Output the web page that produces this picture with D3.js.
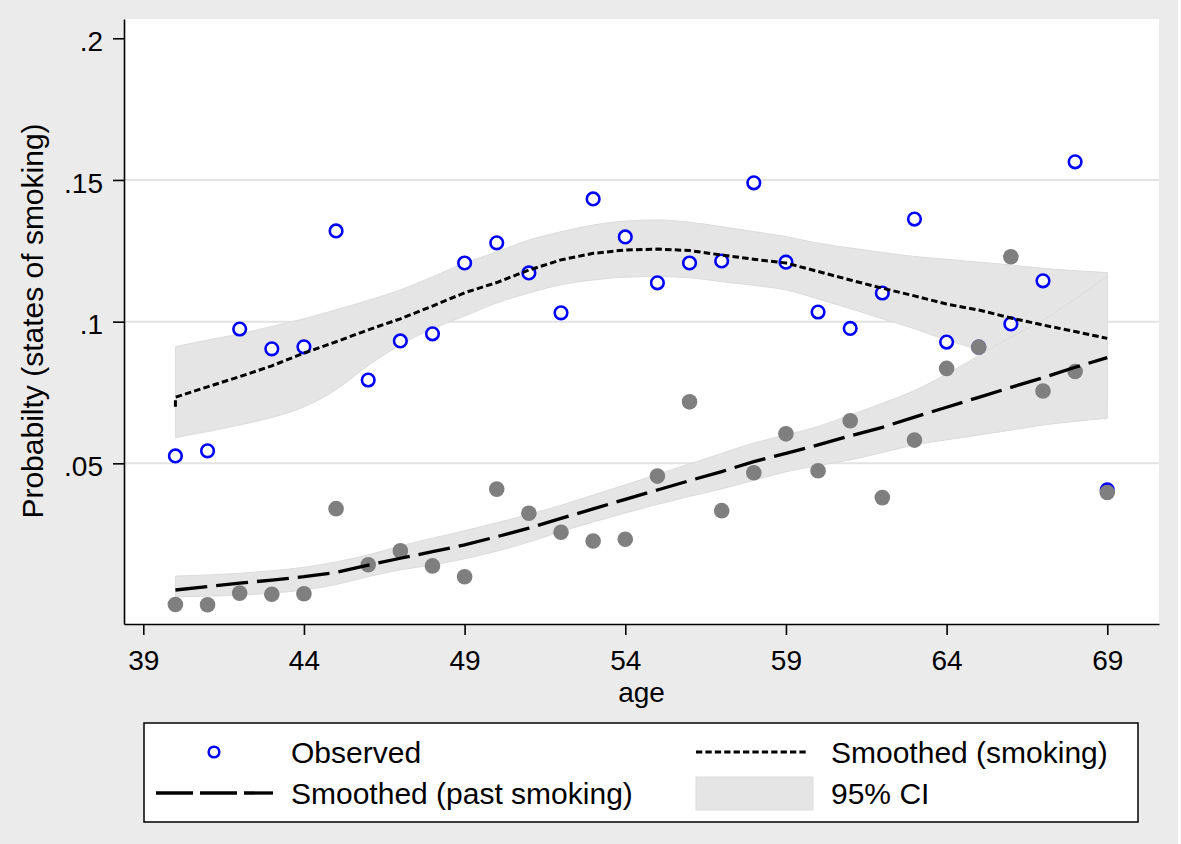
<!DOCTYPE html>
<html><head><meta charset="utf-8">
<script src="https://cdn.jsdelivr.net/npm/d3@7"></script>
<style>
body{margin:0;background:#fff}
svg{display:block}
text{font-family:"Liberation Sans",Arial,Helvetica,sans-serif;fill:#000}
</style>
</head><body>
<svg id="chart" width="1181" height="844"></svg>
<script>
// ---------- data ----------
const ages = [40,41,42,43,44,45,46,47,48,49,50,51,52,53,54,55,56,57,58,59,60,61,62,63,64,65,66,67,68,69];

const observedSmoking = [0.0526,0.0544,0.0974,0.0904,0.0911,0.1320,0.0794,0.0932,0.0957,0.1207,
                         0.1278,0.1172,0.1031,0.1433,0.1299,0.1137,0.1207,0.1214,0.1490,0.1210,
                         0.1034,0.0976,0.1101,0.1362,0.0928,0.0910,0.0992,0.1144,0.1564,0.0406];

const observedPast = [0.0002,0.0001,0.0042,0.0038,0.0040,0.0340,0.0142,0.0191,0.0138,0.0100,
                      0.0409,0.0324,0.0257,0.0226,0.0232,0.0455,0.0717,0.0333,0.0467,0.0604,
                      0.0474,0.0650,0.0379,0.0582,0.0835,0.0910,0.1229,0.0755,0.0824,0.0397];

const smoothSmokingStart = [0.0700];
const smoothSmoking = [0.0733,0.0770,0.0806,0.0844,0.0889,0.0929,0.0971,0.1010,0.1055,0.1102,
                       0.1138,0.1182,0.1218,0.1241,0.1253,0.1256,0.1251,0.1235,0.1220,0.1207,
                       0.1177,0.1147,0.1118,0.1091,0.1062,0.1041,0.1013,0.0988,0.0965,0.0941];

const smoothPast = [0.0053,0.0065,0.0077,0.0088,0.0100,0.0115,0.0141,0.0165,0.0188,0.0212,
                    0.0241,0.0271,0.0306,0.0339,0.0373,0.0406,0.0439,0.0471,0.0506,0.0535,
                    0.0565,0.0597,0.0627,0.0663,0.0698,0.0733,0.0768,0.0802,0.0839,0.0873];

const ciSmokingUpper = [0.0912,0.0935,0.0957,0.0983,0.1010,0.1042,0.1075,0.1112,0.1158,0.1207,
                        0.1246,0.1288,0.1317,0.1341,0.1355,0.1359,0.1351,0.1335,0.1318,0.1300,
                        0.1277,0.1260,0.1244,0.1230,0.1220,0.1210,0.1200,0.1188,0.1180,0.1173];
const ciSmokingLower = [0.0591,0.0612,0.0635,0.0662,0.0699,0.0760,0.0845,0.0918,0.0975,0.1020,
                        0.1066,0.1101,0.1130,0.1147,0.1157,0.1159,0.1155,0.1141,0.1128,0.1112,
                        0.1080,0.1046,0.1010,0.0975,0.0935,0.0900,0.0850,0.0800,0.0750,0.0700];

const ciPastUpper = [0.0102,0.0106,0.0112,0.0121,0.0133,0.0152,0.0177,0.0208,0.0236,0.0262,
                     0.0290,0.0320,0.0352,0.0388,0.0424,0.0461,0.0498,0.0535,0.0572,0.0600,
                     0.0630,0.0670,0.0712,0.0757,0.0815,0.0880,0.0945,0.1005,0.1080,0.1160];
const ciPastLower = [0.0029,0.0031,0.0035,0.0042,0.0053,0.0072,0.0100,0.0124,0.0141,0.0163,
                     0.0190,0.0222,0.0259,0.0293,0.0325,0.0355,0.0383,0.0410,0.0440,0.0470,
                     0.0492,0.0512,0.0538,0.0565,0.0583,0.0600,0.0617,0.0635,0.0648,0.0659];

const xTicks = [39,44,49,54,59,64,69];
const yTicks = [0.05,0.1,0.15,0.2];
const yTickLabels = [".05",".1",".15",".2"];
const gridValues = [0.05,0.1,0.15];

const xTitle = "age";
const yTitle = "Probabilty (states of smoking)";
const legendLabels = ["Observed","Smoothed (smoking)","Smoothed (past smoking)","95% CI"];

// ---------- drawing ----------
const svg = d3.select("#chart");
const W = 1181, H = 844;
const plot = {left:124, right:1159, top:19, bottom:624};

svg.append("rect").attr("x",0).attr("y",0).attr("width",W-3).attr("height",H).attr("fill","#ebebeb");
svg.append("rect").attr("x",plot.left).attr("y",plot.top)
   .attr("width",plot.right-plot.left).attr("height",plot.bottom-plot.top).attr("fill","#fff");

const x = d3.scaleLinear().domain([38.4, 70.61]).range([plot.left, plot.right]);
const y = d3.scaleLinear().domain([-0.0067, 0.2068]).range([plot.bottom, plot.top]);

// grid
svg.append("g").selectAll("line").data(gridValues).join("line")
  .attr("x1",plot.left).attr("x2",plot.right)
  .attr("y1",d=>y(d)).attr("y2",d=>y(d))
  .attr("stroke","#e3e3e3").attr("stroke-width",2);

// CI bands
const area = (up, lo) => d3.area().curve(d3.curveMonotoneX)
  .x((d,i)=>x(ages[i])).y0((d,i)=>y(lo[i])).y1((d,i)=>y(up[i]));
svg.append("path").datum(ages).attr("d", area(ciSmokingUpper, ciSmokingLower))
  .attr("fill","#e5e5e5").attr("stroke","#dcdcdc").attr("stroke-width",1);
svg.append("path").datum(ages).attr("d", area(ciPastUpper, ciPastLower))
  .attr("fill","#e5e5e5").attr("stroke","#dcdcdc").attr("stroke-width",1);

// observed points
svg.append("g").selectAll("circle").data(ages).join("circle")
  .attr("cx",d=>x(d)).attr("cy",(d,i)=>y(observedSmoking[i])).attr("r",6.3)
  .attr("fill","#fff").attr("stroke","#0000ff").attr("stroke-width",2.6);
svg.append("g").selectAll("circle").data(ages).join("circle")
  .attr("cx",d=>x(d)).attr("cy",(d,i)=>y(observedPast[i])).attr("r",7.8)
  .attr("fill","#7f7f7f");

// smoothed lines
const smokingPts = [[ages[0], smoothSmokingStart[0]]].concat(ages.map((a,i)=>[a, smoothSmoking[i]]));
const pastPts = ages.map((a,i)=>[a, smoothPast[i]]);
const line = d3.line().x(d=>x(d[0])).y(d=>y(d[1]));
svg.append("path").datum(smokingPts).attr("d", line)
  .attr("fill","none").attr("stroke","#000").attr("stroke-width",3).attr("stroke-dasharray","6.5,3.2");
svg.append("path").datum(pastPts).attr("d", line)
  .attr("fill","none").attr("stroke","#000").attr("stroke-width",3.3).attr("stroke-dasharray","32,9");

// axes
const yAxis = svg.append("g").attr("transform",`translate(${plot.left},0)`)
  .call(d3.axisLeft(y).tickValues(yTicks).tickFormat((d,i)=>yTickLabels[i]).tickSize(11).tickSizeOuter(0).tickPadding(10));
yAxis.selectAll("text").attr("font-size",28).attr("dy","0.44em").style("font-family",'"Liberation Sans",Arial,sans-serif');
const xAxis = svg.append("g").attr("transform",`translate(0,${plot.bottom})`)
  .call(d3.axisBottom(x).tickValues(xTicks).tickFormat(d=>String(d)).tickSize(11).tickSizeOuter(0));
xAxis.selectAll("text").attr("font-size",28).attr("y",46).attr("dy",null).style("font-family",'"Liberation Sans",Arial,sans-serif');
svg.selectAll(".domain, .tick line").attr("stroke","#000").attr("stroke-width",1.6);

// titles
svg.append("text").attr("x",(plot.left+plot.right)/2).attr("y",702)
  .attr("text-anchor","middle").attr("font-size",28).text(xTitle);
svg.append("text").attr("transform","translate(43,321) rotate(-90)")
  .attr("text-anchor","middle").attr("font-size",30).text(yTitle);

// legend
const lg = svg.append("g");
lg.append("rect").attr("x",144).attr("y",723).attr("width",994).attr("height",99)
  .attr("fill","#fff").attr("stroke","#000").attr("stroke-width",1.5);
lg.append("circle").attr("cx",214).attr("cy",752).attr("r",5.3)
  .attr("fill","#fff").attr("stroke","#0000ff").attr("stroke-width",2.6);
lg.append("line").attr("x1",156).attr("x2",273).attr("y1",793).attr("y2",793)
  .attr("stroke","#000").attr("stroke-width",3.3).attr("stroke-dasharray","37,7");
lg.append("line").attr("x1",696).attr("x2",808).attr("y1",752).attr("y2",752)
  .attr("stroke","#000").attr("stroke-width",3).attr("stroke-dasharray","6.3,3.1");
lg.append("rect").attr("x",696).attr("y",777).attr("width",117).attr("height",33)
  .attr("fill","#e5e5e5").attr("stroke","#dcdcdc").attr("stroke-width",1);
const lt = [[291,763,legendLabels[0]],[831,763,legendLabels[1]],[291,804,legendLabels[2]],[831,804,legendLabels[3]]];
lg.selectAll("text.lt").data(lt).join("text").attr("class","lt")
  .attr("x",d=>d[0]).attr("y",d=>d[1]).attr("font-size",30).text(d=>d[2]);
</script>
</body></html>
